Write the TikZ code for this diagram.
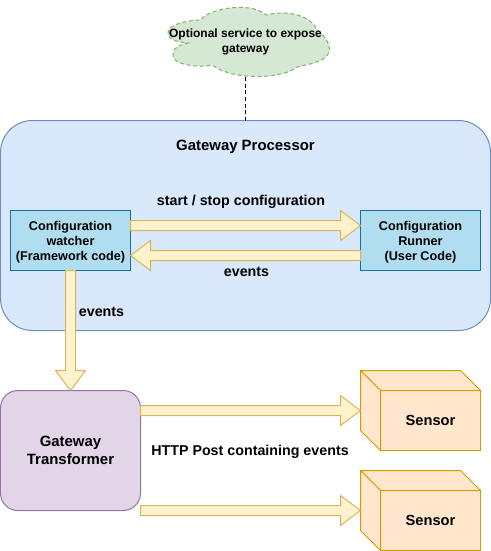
\documentclass[tikz,border=0pt]{standalone}
\usepackage{fontspec}
\usepackage{xcolor}
\usetikzlibrary{calc}
\setmainfont{Liberation Sans}
\definecolor{procfill}{HTML}{DAE8FC}
\definecolor{procline}{HTML}{6C8EBF}
\definecolor{boxfill}{HTML}{B1DDF0}
\definecolor{boxline}{HTML}{10739E}
\definecolor{flowfill}{HTML}{FFF2CC}
\definecolor{flowline}{HTML}{D6B656}
\definecolor{transfill}{HTML}{E1D5E7}
\definecolor{transline}{HTML}{9673A6}
\definecolor{cubefill}{HTML}{FFE6CC}
\definecolor{cubeline}{HTML}{D79B00}
\definecolor{cloudfill}{HTML}{D5E8D4}
\definecolor{cloudline}{HTML}{82B366}
% block arrow between two named points
\newcommand{\blockarrow}[2]{%
    \coordinate (flowbase) at ($(#2)!15pt!(#1)$);
    \draw[flow] ($(#1)!3.75pt!90:(#2)$) -- ($(flowbase)!3.75pt!-90:(#1)$)
        -- ($(flowbase)!11.25pt!-90:(#1)$) -- (#2)
        -- ($(flowbase)!11.25pt!90:(#1)$) -- ($(flowbase)!3.75pt!90:(#1)$)
        -- ($(#1)!3.75pt!-90:(#2)$) -- cycle;
}

\begin{document}
\begin{tikzpicture}[
    x=0.75pt,y=-0.75pt,line width=0.75pt,
    every node/.style={font=\fontsize{9.5pt}{11.25pt}\bfseries,align=center,outer sep=0pt,inner sep=0pt},
    biglabel/.style={font=\fontsize{10.7pt}{12pt}\bfseries},
    processor/.style={rectangle,draw=procline,fill=procfill,rounded corners=24pt,minimum width=367.5pt,minimum height=157.5pt},
    config/.style={rectangle,draw=boxline,fill=boxfill,minimum width=90pt,minimum height=45pt,text depth=0pt},
    transformer/.style={rectangle,draw=transline,fill=transfill,rounded corners=13pt,minimum width=105pt,minimum height=90pt,font=\fontsize{11.2pt}{13.5pt}\bfseries,text depth=0pt},
    sensor/.style={rectangle,draw=cubeline,fill=cubefill,minimum width=75pt,minimum height=45pt,font=\fontsize{11pt}{13pt}\bfseries},
    flow/.style={draw=flowline,fill=flowfill,line join=miter},
    cloudshape/.style={draw=cloudline,fill=cloudfill,densely dashed},
    optional/.style={minimum height=52.5pt,font=\fontsize{9pt}{10.9pt}\bfseries},
    link/.style={draw=black,densely dashed},]
\useasboundingbox (0,0) rectangle (491,551);

\draw[cloudshape] (168,34) .. controls (166,24) and (190,20) .. (201,20)
    .. controls (205,10) and (250,0) .. (266,15)
    .. controls (285,10) and (310,14) .. (317,30)
    .. controls (325,35) and (333,48) .. (328,54)
    .. controls (325,62) and (305,65) .. (297,67)
    .. controls (285,78) and (235,82) .. (212,65)
    .. controls (200,68) and (170,65) .. (173,54)
    .. controls (172,48) and (182,44) .. (188,43)
    .. controls (178,42) and (169,40) .. (168,34) -- cycle;
\node[optional] (service) at (245.5,42) {Optional service to expose\\gateway};

\node[processor] (proc) at (245.5,225.5) {};
\draw[link] (service.south) -- (proc.north);
\node[font=\fontsize{11.2pt}{13pt}\bfseries] (proctitle) at (245.5,146.5) {Gateway Processor};

\node[config] (watcher) at (70.5,240.5) {Configuration\\watcher\\(Framework code)};
\node[config] (runner) at (420.5,240.5) {Configuration\\Runner\\(User Code)};
\node[transformer] (trans) at (70.5,450.5) {Gateway\\Transformer};

% sensors, front face first and then the two other faces
\foreach \name/\ypos in {sensora/420.5,sensorb/520.5} {
    \node[sensor] (\name) at (430.5,\ypos) {Sensor};
    \draw[draw=cubeline,fill=cubefill,line join=miter] (\name.north west) -- ++(-20,-20) -- ++(100,0)
        -- (\name.north east) -- cycle;
    \draw[draw=cubeline,fill=cubefill,line join=miter] (\name.north west) -- ++(-20,-20) -- ++(0,60)
        -- (\name.south west) -- cycle;
    \coordinate (\name-in) at ($(\name.west)+(-20,-10)$);
}

\coordinate (startout) at ([yshift=11.25pt]watcher.east);
\coordinate (startin) at ([yshift=11.25pt]runner.west);
\coordinate (eventsout) at ([yshift=-11.25pt]runner.west);
\coordinate (eventsin) at ([yshift=-11.25pt]watcher.east);
\coordinate (posta) at (trans.east |- sensora-in);
\coordinate (postb) at (trans.east |- sensorb-in);
\blockarrow{startout}{startin}
\blockarrow{eventsout}{eventsin}
\blockarrow{watcher.south}{trans.north}
\blockarrow{posta}{sensora-in}
\blockarrow{postb}{sensorb-in}

\node[biglabel] (startlabel) at (241,201.5) {start / stop configuration};
\node[biglabel] (eventsa) at (246.5,271.5) {events};
\node[biglabel] (eventsb) at (101.5,311.5) {events};
\node[biglabel] (postlabel) at (250,451.5) {HTTP Post containing events};
\end{tikzpicture}
\end{document}
